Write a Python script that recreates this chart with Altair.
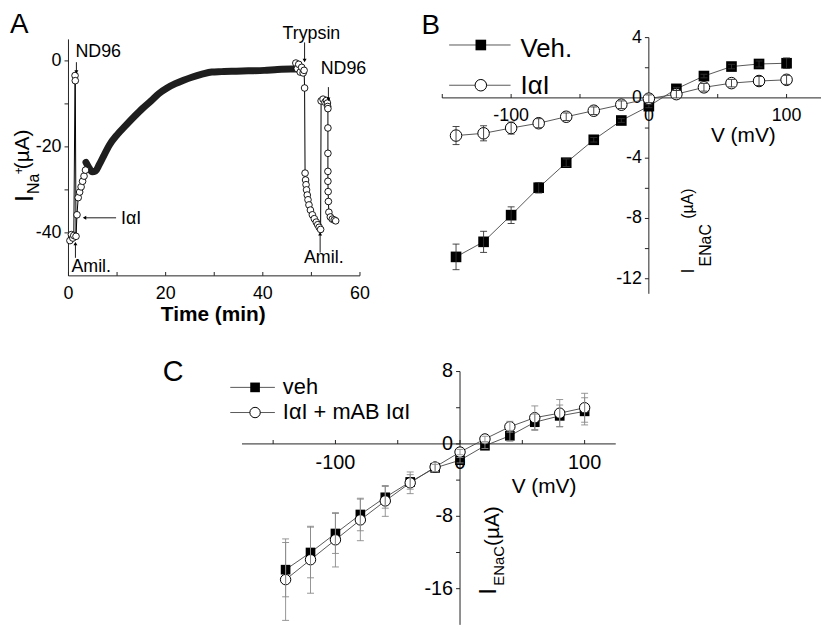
import altair as alt
import pandas as pd

FONT = "Liberation Sans"

# ---------------- Panel A : current vs time ----------------
a_pts_t = [0.3, 0.6, 0.9, 1.1, 1.35, 1.4, 1.55, 1.75, 2.0, 2.3, 2.6, 2.9, 3.2, 3.5,
           46.8, 47.1, 47.4, 47.7, 48.0, 48.3, 48.5, 48.6,
           48.7, 48.8, 48.9, 49.0, 49.15, 49.3, 49.5, 49.8, 50.2, 50.6, 51.0, 51.3, 51.6, 51.9,
           52.0, 52.4, 52.8, 53.1, 53.3, 53.35, 53.4, 53.4, 53.4, 53.4, 53.4, 53.45, 53.5, 53.6,
           53.9, 54.3, 54.7, 55.0]
a_pts_i = [-41.8, -40.4, -41.2, -40.6, -3.4, -4.6, -40.8, -35.8, -31.8, -30.5, -29.3, -28.0, -26.8, -25.4,
           -0.5, -1.8, -0.8, -2.6, -1.5, -2.8, -2.2, -6.3,
           -26.1, -27.7, -28.8, -30.0, -31.2, -32.3, -33.5, -34.7, -35.8, -36.7, -37.5, -38.1, -38.7, -39.2,
           -9.3, -8.9, -9.6, -9.2, -9.8, -10.6, -11.1, -15.6, -21.5, -25.7, -28.0, -30.4, -32.7, -35.2,
           -36.3, -36.8, -37.0, -37.2]
a_pts_seg = [1] * 14 + [2] * 40

a_curve_t = [3.6, 4.2, 4.9, 5.6, 6.3, 7.2, 8.4, 10.0, 11.8, 13.5, 15.2, 17.0, 18.6, 20.3, 22.0,
             23.7, 25.4, 27.5, 29.5, 31.5, 33.6, 37.0, 40.3, 43.0, 45.8, 47.0]
a_curve_i = [-23.6, -24.8, -25.8, -25.6, -24.2, -22.2, -19.6, -17.2, -15.0, -13.0, -11.1, -9.3, -7.6,
             -6.3, -5.3, -4.5, -3.8, -3.1, -2.6, -2.5, -2.4, -2.3, -2.2, -2.0, -1.9, -1.9]

a_arrow_t = [1.63, 1.43, 9.8, 48.6, 53.5, 51.8]
a_arrow_i = [-0.3, -45.8, -36.5, 4.3, -6.1, -44.6]
a_arrow_t2 = [1.63, 1.43, 3.3, 48.6, 53.5, 51.8]
a_arrow_i2 = [-2.6, -42.5, -36.5, 0.1, -8.9, -40.2]
a_arrow_head = ["triangle-down", "triangle-up", "triangle-left", "triangle-down", "triangle-down", "triangle-up"]

a_note_text = ["ND96", "Trypsin", "ND96", "Amil.", "Amil.", "IαI"]
a_note_t = [1.43, 50.0, 56.6, 52.55, 0.6, 10.8]
a_note_i = [0.83, 5.2, -3.1, -47.1, -49.0, -37.9]
a_note_align = ["left", "center", "center", "center", "left", "left"]

a_xtick_vals = [0, 10, 20, 30, 40, 50, 60]
a_xtick_labs = ["0", "", "20", "", "40", "", "60"]
a_ytick_vals = [0, -10, -20, -30, -40]
a_ytick_labs = ["0", "", "-20", "", "-40"]

# ---------------- Panel B : I-V (Veh vs IαI) ----------------
b_v = [-140, -120, -100, -80, -60, -40, -20, 0, 20, 40, 60, 80, 100]
b_veh = [-10.55, -9.55, -7.78, -5.96, -4.3, -2.78, -1.5, -0.55, 0.6, 1.45, 2.08, 2.25, 2.3]
b_veh_err = [0.85, 0.7, 0.55, 0.35, 0.25, 0.15, 0.12, 0.1, 0.1, 0.12, 0.15, 0.2, 0.35]
b_iai = [-2.5, -2.35, -2.0, -1.68, -1.25, -0.85, -0.45, -0.05, 0.25, 0.7, 0.98, 1.12, 1.2]
b_iai_err = [0.6, 0.5, 0.4, 0.3, 0.25, 0.25, 0.25, 0.25, 0.25, 0.25, 0.25, 0.3, 0.3]
b_series = ["Veh.", "IαI"]
b_xtick_vals = [-150, -100, -50, 0, 50, 100]
b_xtick_labs = ["", "-100", "", "0", "", "100"]
b_ytick_vals = [4, 2, 0, -2, -4, -6, -8, -10, -12]
b_ytick_labs = ["4", "", "0", "", "-4", "", "-8", "", "-12"]

# ---------------- Panel C : I-V (veh vs IαI + mAB IαI) ----------------
c_v = [-140, -120, -100, -80, -60, -40, -20, 0, 20, 40, 60, 80, 100]
c_veh = [-13.9, -12.0, -9.9, -7.8, -5.9, -4.2, -2.65, -1.8, -0.2, 0.9, 2.4, 3.1, 3.6]
c_veh_err = [3.0, 2.8, 2.2, 1.8, 1.2, 0.8, 0.4, 0.3, 0.3, 0.6, 0.9, 1.2, 1.5]
c_iai = [-15.0, -12.8, -10.6, -8.4, -6.3, -4.3, -2.55, -0.9, 0.55, 1.9, 2.9, 3.4, 4.0]
c_iai_err = [4.5, 3.7, 3.0, 2.3, 1.7, 1.2, 0.5, 0.3, 0.3, 0.6, 1.3, 1.5, 1.6]
c_series = ["veh", "IαI + mAB IαI"]
c_xtick_vals = [-150, -100, -50, 0, 50, 100]
c_xtick_labs = ["", "-100", "", "0", "", "100"]
c_ytick_vals = [8, 4, 0, -4, -8, -12, -16]
c_ytick_labs = ["8", "", "0", "", "-8", "", "-16"]


# ---------------- helpers ----------------
def scale(dom, rng):
    return alt.Scale(domain=dom, range=rng, nice=False, zero=False)


def label(text, x, y, size, angle=0, align="left", weight="normal"):
    return alt.Chart(pd.DataFrame({"lab": [text]})).mark_text(
        text=text, font=FONT, fontSize=size, angle=angle, align=align,
        baseline="alphabetic", color="black", fontWeight=weight
    ).encode(x=alt.value(x), y=alt.value(y))


def axes(sx, sy, xdom, ydom, x_at, y_at, xvals, xlabs, yvals, ylabs, size):
    """Axis lines crossing at (y_at on x-axis, x_at on y-axis), drawn through the panel scales."""
    X = lambda f: alt.X(f + ":Q", scale=sx, axis=None)
    Y = lambda f: alt.Y(f + ":Q", scale=sy, axis=None)
    dom = pd.DataFrame({"x1": [xdom[0]], "x2": [xdom[1]], "y1": [ydom[0]], "y2": [ydom[1]],
                        "xa": [x_at], "ya": [y_at]})
    xline = alt.Chart(dom).mark_rule(color="#222", strokeWidth=1).encode(x=X("x1"), x2="x2:Q", y=Y("ya"))
    yline = alt.Chart(dom).mark_rule(color="#222", strokeWidth=1).encode(x=X("xa"), y=Y("y1"), y2="y2:Q")
    dx = pd.DataFrame({"v": xvals, "lab": xlabs, "ya": [y_at] * len(xvals)})
    dy = pd.DataFrame({"v": yvals, "lab": ylabs, "xa": [x_at] * len(yvals)})
    xt = alt.Chart(dx).mark_tick(orient="vertical", color="#222", size=4, thickness=1,
                                 yOffset=-2, opacity=1).encode(x=X("v"), y=Y("ya"))
    yt = alt.Chart(dy).mark_tick(orient="horizontal", color="#222", size=4, thickness=1,
                                 xOffset=-2, opacity=1).encode(x=X("xa"), y=Y("v"))
    xl = alt.Chart(dx).mark_text(font=FONT, fontSize=size, align="center", baseline="top",
                                 dy=9, color="black").encode(x=X("v"), y=Y("ya"), text="lab:N")
    yl = alt.Chart(dy).mark_text(font=FONT, fontSize=size, align="right", baseline="middle",
                                 dx=-7, color="black").encode(x=X("xa"), y=Y("v"), text="lab:N")
    return [xline, yline, xt, yt, xl, yl]


# ---------------- Panel A ----------------
A_xd, A_xr = [0, 60], [61, 355]
A_yd, A_yr = [-50, 5], [267.5, 29]
sAx, sAy = scale(A_xd, A_xr), scale(A_yd, A_yr)

dfA_pts = pd.DataFrame({"t": a_pts_t, "I": a_pts_i, "seg": a_pts_seg,
                        "ord": list(range(len(a_pts_t)))})
dfA_curve = pd.DataFrame({"t": a_curve_t, "I": a_curve_i})
dfA_arrow = pd.DataFrame({"t": a_arrow_t, "I": a_arrow_i, "t2": a_arrow_t2, "I2": a_arrow_i2,
                          "head": a_arrow_head})
dfA_note = pd.DataFrame({"t": a_note_t, "I": a_note_i, "txt": a_note_text, "al": a_note_align})

Ax = lambda f="t": alt.X(f + ":Q", scale=sAx, axis=None)
Ay = lambda f="I": alt.Y(f + ":Q", scale=sAy, axis=None)

A_axes = axes(sAx, sAy, A_xd, A_yd, 0, -50, a_xtick_vals, a_xtick_labs, a_ytick_vals, a_ytick_labs, 18)
A_curve = alt.Chart(dfA_curve).mark_line(color="#1e1e1e", strokeWidth=7, strokeCap="round",
                                         interpolate="monotone").encode(x=Ax(), y=Ay())
A_line = alt.Chart(dfA_pts).mark_line(color="black", strokeWidth=1).encode(
    x=Ax(), y=Ay(), detail="seg:N", order="ord:Q")
A_pts = alt.Chart(dfA_pts).mark_point(shape="circle", filled=True, fill="white", stroke="black",
                                      strokeWidth=0.9, size=45, opacity=1).encode(x=Ax(), y=Ay())
A_arrow = alt.Chart(dfA_arrow).mark_rule(color="black", strokeWidth=0.9).encode(
    x=Ax(), y=Ay(), x2="t2:Q", y2="I2:Q")
A_head = alt.Chart(dfA_arrow).mark_point(filled=True, color="black", size=16, opacity=1).encode(
    x=Ax("t2"), y=Ay("I2"), shape=alt.Shape("head:N", scale=None))
A_note_l = alt.Chart(dfA_note).transform_filter(alt.datum.al == "left").mark_text(
    font=FONT, fontSize=18, align="left", baseline="alphabetic", color="black").encode(
    x=Ax(), y=Ay(), text="txt:N")
A_note_c = alt.Chart(dfA_note).transform_filter(alt.datum.al == "center").mark_text(
    font=FONT, fontSize=18, align="center", baseline="alphabetic", color="black").encode(
    x=Ax(), y=Ay(), text="txt:N")

panelA = alt.layer(
    *A_axes, A_curve, A_line, A_pts, A_arrow, A_head, A_note_l, A_note_c,
    label("A", 2, 23, 28),
    label("Time (min)", 207, 313, 21, align="center", weight="bold"),
    label("I", 25, 193, 26, angle=270),
    label("Na", 31, 185, 16, angle=270),
    label("+", 15, 165, 12, angle=270),
    label("(µA)", 21, 160, 21, angle=270),
)


# ---------------- I-V panel builder ----------------
def iv_panel(v, s1, e1, s2, e2, names, xd, xr, yd, yr, xvals, xlabs, yvals, ylabs,
             tick_size, sq_size, ci_size, err_color, cap, legend):
    sx, sy = scale(xd, xr), scale(yd, yr)
    df = pd.DataFrame({
        "V": v + v, "I": s1 + s2, "err": e1 + e2,
        "s": [names[0]] * len(v) + [names[1]] * len(v),
    })
    df["lo"] = df["I"] - df["err"]
    df["hi"] = df["I"] + df["err"]
    X = lambda f="V": alt.X(f + ":Q", scale=sx, axis=None)
    Y = lambda f="I": alt.Y(f + ":Q", scale=sy, axis=None)
    ax = axes(sx, sy, xd, yd, 0, 0, xvals, xlabs, yvals, ylabs, tick_size)
    line = alt.Chart(df).mark_line(color="#444", strokeWidth=0.9).encode(x=X(), y=Y(), detail="s:N")
    sq = alt.Chart(df).transform_filter(alt.datum.s == names[0]).mark_point(
        shape="square", filled=True, color="black", size=sq_size, opacity=1).encode(x=X(), y=Y())
    ci = alt.Chart(df).transform_filter(alt.datum.s == names[1]).mark_point(
        shape="circle", filled=True, fill="white", stroke="black", strokeWidth=1,
        size=ci_size, opacity=1).encode(x=X(), y=Y())
    bar = alt.Chart(df).mark_rule(color=err_color, strokeWidth=0.9).encode(x=X(), y=Y("lo"), y2="hi:Q")
    cap_lo = alt.Chart(df).mark_tick(orient="horizontal", color=err_color, size=cap,
                                     thickness=0.9, opacity=1).encode(x=X(), y=Y("lo"))
    cap_hi = alt.Chart(df).mark_tick(orient="horizontal", color=err_color, size=cap,
                                     thickness=0.9, opacity=1).encode(x=X(), y=Y("hi"))
    (lx1, lx2, lxm, ltx, ly1, ly2, lty1, lty2, lsize) = legend
    dleg = pd.DataFrame({"x1": [lx1, lx1], "x2": [lx2, lx2], "xm": [lxm, lxm],
                         "y": [ly1, ly2], "s": names, "tx": [ltx, ltx], "ty": [lty1, lty2]})
    leg_line = alt.Chart(dleg).mark_rule(color="#444", strokeWidth=0.9).encode(
        x=X("x1"), x2="x2:Q", y=Y("y"))
    leg_sq = alt.Chart(dleg).transform_filter(alt.datum.s == names[0]).mark_point(
        shape="square", filled=True, color="black", size=sq_size, opacity=1).encode(x=X("xm"), y=Y("y"))
    leg_ci = alt.Chart(dleg).transform_filter(alt.datum.s == names[1]).mark_point(
        shape="circle", filled=True, fill="white", stroke="black", strokeWidth=1,
        size=ci_size, opacity=1).encode(x=X("xm"), y=Y("y"))
    leg_txt = alt.Chart(dleg).mark_text(font=FONT, fontSize=lsize, align="left",
                                        baseline="alphabetic", color="black").encode(
        x=X("tx"), y=Y("ty"), text="s:N")
    return ax + [line, sq, ci, bar, cap_lo, cap_hi, leg_line, leg_sq, leg_ci, leg_txt]


B_layers = iv_panel(
    b_v, b_veh, b_veh_err, b_iai, b_iai_err, b_series,
    [-150, 125], [438, 820], [-13, 4], [285.6, 27.2],
    b_xtick_vals, b_xtick_labs, b_ytick_vals, b_ytick_labs,
    18, 115, 135, "#333", 7,
    (-145.0, -100.4, -122.0, -93.2, 3.51, 0.84, 2.7, 0.26, 26),
)
panelB = alt.layer(
    *B_layers,
    label("B", 417, 24, 28),
    label("V (mV)", 709, 132, 21),
    label("I", 692, 265, 18, angle=270),
    label("ENaC", 709, 258, 16, angle=270),
    label("(µA)", 691, 210, 16, angle=270),
)

C_layers = iv_panel(
    c_v, c_veh, c_veh_err, c_iai, c_iai_err, c_series,
    [-175, 125], [236, 613], [-20, 8], [619.5, 364],
    c_xtick_vals, c_xtick_labs, c_ytick_vals, c_ytick_labs,
    20, 95, 110, "#8a8a8a", 7,
    (-184.4, -148.6, -164.5, -142.2, 6.25, 3.47, 5.48, 2.74, 22),
)
panelC = alt.layer(
    *C_layers,
    label("C", 156, 374, 29),
    label("V (mV)", 508, 486, 21),
    label("I", 492, 589, 25, angle=270),
    label("ENaC", 500, 580, 15, angle=270),
    label("(µA)", 495, 540, 21, angle=270),
)

chart = alt.layer(panelA, panelB, panelC).resolve_scale(
    x="independent", y="independent"
).properties(
    width=821, height=621, padding=0,
    autosize=alt.AutoSizeParams(type="none"),
).configure_view(stroke="transparent")

chart.save("out.html", embed_options={"renderer": "svg", "actions": False})
